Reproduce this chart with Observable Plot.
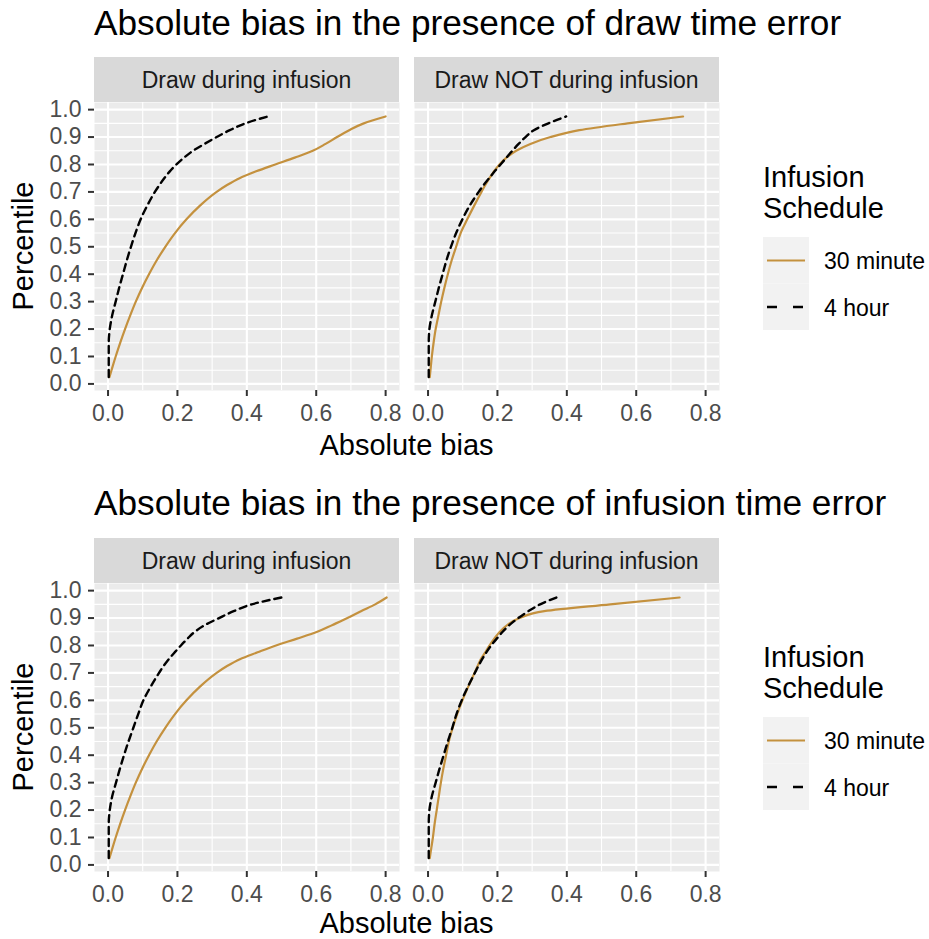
<!DOCTYPE html>
<html>
<head>
<meta charset="utf-8">
<script src="https://cdn.jsdelivr.net/npm/d3@7"></script>
<script src="https://cdn.jsdelivr.net/npm/@observablehq/plot@0.6"></script>
<style>
  body { margin: 0; background: #ffffff; }
  #root { position: relative; width: 929px; height: 939px; overflow: hidden; }
  #root svg { position: absolute; overflow: visible; }
</style>
</head>
<body>
<div id="root"></div>
<script>
// ---------------- data ----------------
const titles = [
  "Absolute bias in the presence of draw time error",
  "Absolute bias in the presence of infusion time error"
];
const facets = ["Draw during infusion", "Draw NOT during infusion"];
const schedules = ["30 minute", "4 hour"];
const scheduleColors = ["#C4913E", "#000000"];
const legendTitle = ["Infusion", "Schedule"];
const xLabel = "Absolute bias";
const yLabel = "Percentile";

const xTicks = [0, 0.2, 0.4, 0.6, 0.8];
const xMinor = [0.1, 0.3, 0.5, 0.7];
const yTicks = [0, 0.1, 0.2, 0.3, 0.4, 0.5, 0.6, 0.7, 0.8, 0.9, 1.0];
const yMinor = [0.05, 0.15, 0.25, 0.35, 0.45, 0.55, 0.65, 0.75, 0.85, 0.95];

const percentiles = [0.025, 0.05, 0.1, 0.15, 0.2, 0.25, 0.3, 0.35, 0.4, 0.45, 0.5, 0.55, 0.6, 0.65, 0.7,
                     0.725, 0.75, 0.775, 0.8, 0.825, 0.85, 0.875, 0.9, 0.925, 0.95, 0.975];

// draw time error
const drawErr_during_30min = [0.004, 0.010, 0.022, 0.035, 0.049, 0.064, 0.080, 0.098, 0.118, 0.140, 0.165, 0.193, 0.226, 0.265, 0.313,
                              0.343, 0.379, 0.427, 0.482, 0.538, 0.590, 0.627, 0.660, 0.695, 0.737, 0.800];
const drawErr_during_4hr   = [0.002, 0.002, 0.002, 0.002, 0.005, 0.012, 0.022, 0.032, 0.043, 0.054, 0.066, 0.079, 0.094, 0.113, 0.135,
                              0.148, 0.162, 0.178, 0.197, 0.219, 0.245, 0.278, 0.313, 0.351, 0.396, 0.460];
const drawErr_not_30min    = [0.005, 0.007, 0.011, 0.016, 0.022, 0.030, 0.038, 0.047, 0.057, 0.068, 0.081, 0.094, 0.113, 0.133, 0.154,
                              0.165, 0.177, 0.190, 0.206, 0.226, 0.254, 0.295, 0.353, 0.436, 0.575, 0.735];
const drawErr_not_4hr      = [0.002, 0.002, 0.002, 0.002, 0.004, 0.011, 0.021, 0.031, 0.042, 0.053, 0.066, 0.081, 0.099, 0.120, 0.146,
                              0.160, 0.176, 0.192, 0.209, 0.226, 0.243, 0.261, 0.281, 0.305, 0.347, 0.398];
// infusion time error
const infErr_during_30min  = [0.004, 0.010, 0.022, 0.035, 0.049, 0.064, 0.080, 0.098, 0.118, 0.140, 0.165, 0.193, 0.226, 0.265, 0.313,
                              0.343, 0.380, 0.431, 0.484, 0.545, 0.603, 0.647, 0.690, 0.729, 0.770, 0.803];
const infErr_during_4hr    = [0.002, 0.002, 0.002, 0.002, 0.005, 0.012, 0.023, 0.034, 0.046, 0.059, 0.073, 0.087, 0.102, 0.123, 0.147,
                              0.160, 0.175, 0.192, 0.210, 0.229, 0.250, 0.280, 0.320, 0.362, 0.414, 0.500];
const infErr_not_30min     = [0.005, 0.008, 0.014, 0.019, 0.025, 0.031, 0.037, 0.044, 0.052, 0.060, 0.071, 0.084, 0.099, 0.116, 0.134,
                              0.143, 0.152, 0.165, 0.177, 0.191, 0.207, 0.229, 0.264, 0.335, 0.525, 0.725];
const infErr_not_4hr       = [0.002, 0.002, 0.002, 0.002, 0.004, 0.011, 0.022, 0.033, 0.045, 0.057, 0.070, 0.082, 0.097, 0.115, 0.135,
                              0.145, 0.156, 0.168, 0.182, 0.198, 0.215, 0.235, 0.260, 0.289, 0.323, 0.370];

function rowsFor(series) {
  return series.flatMap(([vals, sched]) =>
    vals.map((v, i) => ({bias: v, pct: percentiles[i], schedule: sched})));
}
const panels = [
  [rowsFor([[drawErr_during_30min, schedules[0]], [drawErr_during_4hr, schedules[1]]]),
   rowsFor([[drawErr_not_30min, schedules[0]], [drawErr_not_4hr, schedules[1]]])],
  [rowsFor([[infErr_during_30min, schedules[0]], [infErr_during_4hr, schedules[1]]]),
   rowsFor([[infErr_not_30min, schedules[0]], [infErr_not_4hr, schedules[1]]])]
];

// ---------------- layout ----------------
const FONT = '"Liberation Sans", Arial, Helvetica, sans-serif';
const root = document.getElementById("root");
const X_DOMAIN = [-0.039, 0.840];
const Y_DOMAIN = [-0.024, 1.026];
const PANEL_W = 305, PANEL_H = 288;
const PANEL_X = [94, 414];
const ROW_OFFSET = [0, 481];
const PANEL_TOP = 102;
const fmt = d3.format(".1f");

function makePanel(rows, showY) {
  const mL = showY ? 94 : 14, mR = 16, mT = 12, mB = 44;
  return Plot.plot({
    width: mL + PANEL_W + mR,
    height: mT + PANEL_H + mB,
    marginLeft: mL, marginRight: mR, marginTop: mT, marginBottom: mB,
    x: {domain: X_DOMAIN, axis: null},
    y: {domain: Y_DOMAIN, axis: null},
    style: {fontFamily: FONT, fontSize: "23px", background: "transparent", overflow: "visible"},
    marks: [
      Plot.frame({fill: "#EBEBEB", stroke: "none"}),
      Plot.gridX(xMinor, {stroke: "#ffffff", strokeOpacity: 1, strokeWidth: 1.1}),
      Plot.gridY(yMinor, {stroke: "#ffffff", strokeOpacity: 1, strokeWidth: 1.1}),
      Plot.gridX(xTicks, {stroke: "#ffffff", strokeOpacity: 1, strokeWidth: 2.1}),
      Plot.gridY(yTicks, {stroke: "#ffffff", strokeOpacity: 1, strokeWidth: 2.1}),
      Plot.line(rows, {filter: d => d.schedule === schedules[0], x: "bias", y: "pct",
        stroke: scheduleColors[0], strokeWidth: 2.2, curve: "monotone-y"}),
      Plot.line(rows, {filter: d => d.schedule === schedules[1], x: "bias", y: "pct",
        stroke: scheduleColors[1], strokeWidth: 2.4, strokeDasharray: "7,5", curve: "monotone-y"}),
      Plot.axisX(xTicks, {tickSize: 6, tickPadding: 8, tickFormat: fmt, label: null,
        stroke: "#333333", strokeWidth: 2, fill: "#4D4D4D", fontSize: 23}),
      showY ? Plot.axisY(yTicks, {tickSize: 6, tickPadding: 7, tickFormat: fmt, label: null,
        stroke: "#333333", strokeWidth: 2, fill: "#4D4D4D", fontSize: 23}) : null
    ]
  });
}

panels.forEach((row, r) => {
  row.forEach((rows, c) => {
    const svg = makePanel(rows, c === 0);
    const mL = c === 0 ? 94 : 14;
    svg.style.left = (PANEL_X[c] - mL) + "px";
    svg.style.top = (PANEL_TOP + ROW_OFFSET[r] - 12) + "px";
    root.appendChild(svg);
  });
});

// ---------------- text overlay: titles, strips, axis titles, legend ----------------
const ov = d3.create("svg")
  .attr("width", 929).attr("height", 939)
  .style("left", "0px").style("top", "0px")
  .style("pointer-events", "none")
  .style("font-family", FONT);

ROW_OFFSET.forEach((off, r) => {
  const lo = r === 0 ? 0 : 480;
  ov.append("text").attr("x", 94).attr("y", 35 + lo)
    .attr("font-size", 35.2).attr("fill", "#000").text(titles[r]);

  facets.forEach((f, c) => {
    ov.append("rect").attr("x", PANEL_X[c]).attr("y", 57 + off)
      .attr("width", PANEL_W).attr("height", 45).attr("fill", "#D9D9D9");
    ov.append("text").attr("x", PANEL_X[c] + PANEL_W / 2).attr("y", 88 + off)
      .attr("text-anchor", "middle").attr("font-size", 23).attr("fill", "#1A1A1A").text(f);
  });

  ov.append("text").attr("x", (PANEL_X[0] + PANEL_X[1] + PANEL_W) / 2).attr("y", r === 0 ? 455 : 933)
    .attr("text-anchor", "middle").attr("font-size", 29).attr("fill", "#000").text(xLabel);

  ov.append("text").attr("transform", `translate(33,${PANEL_TOP + PANEL_H / 2 + off}) rotate(-90)`)
    .attr("text-anchor", "middle").attr("font-size", 29).attr("fill", "#000").text(yLabel);

  // legend
  legendTitle.forEach((t, i) => {
    ov.append("text").attr("x", 763).attr("y", 187 + 31 * i + lo)
      .attr("font-size", 29).attr("fill", "#000").text(t);
  });
  schedules.forEach((s, i) => {
    const ky = 237 + lo + i * 46.5;
    ov.append("rect").attr("x", 763).attr("y", ky).attr("width", 46).attr("height", 46.5)
      .attr("fill", "#F2F2F2");
    const ln = ov.append("line").attr("x1", 767).attr("x2", 805)
      .attr("y1", ky + 23.5).attr("y2", ky + 23.5)
      .attr("stroke", scheduleColors[i]).attr("stroke-width", i === 0 ? 2.2 : 2.4);
    if (i === 1) ln.attr("stroke-dasharray", "10,16");
    ov.append("text").attr("x", 824).attr("y", ky + 32)
      .attr("font-size", 23).attr("fill", "#000").text(s);
  });
});

root.appendChild(ov.node());
</script>
</body>
</html>
